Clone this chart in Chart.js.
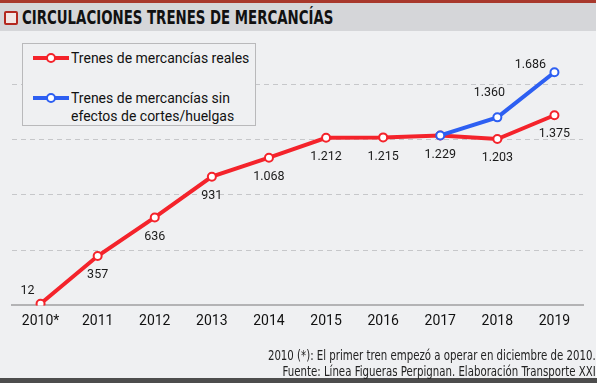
<!DOCTYPE html>
<html>
<head>
<meta charset="utf-8">
<script src="https://cdn.jsdelivr.net/npm/chart.js@4.4.1/dist/chart.umd.min.js"></script>
<style>
  html, body { margin: 0; padding: 0; background: #fff; }
  #wrap { position: relative; width: 600px; height: 383px; overflow: hidden; }
  #topline { position: absolute; left: 0; top: 0; width: 596px; height: 3px; background: #a8382c; }
  #titlebar { position: absolute; left: 0; top: 3px; width: 596px; height: 28px; background: #d5d6d9; }
  #icon { position: absolute; left: 4px; top: 8px; width: 10px; height: 10px; border: 2px solid #b4281f; border-radius: 2px; background: #f3e6e4; }
  #title { position: absolute; left: 22px; top: 3px; font: bold 19px "DejaVu Sans Condensed", sans-serif; color: #111; white-space: nowrap; transform-origin: left center; transform: scaleX(0.78); }
  #panel { position: absolute; left: 0; top: 31px; width: 596px; height: 347px; background: #eff0f2; }
  #bottomline { position: absolute; left: 0; top: 378px; width: 597px; height: 5px; background: #4d4d4d; }
  canvas { position: absolute; left: 0; top: 0; }
  #legend { position: absolute; left: 22px; top: 43px; width: 232px; height: 81px; border: 1px solid #b9b9bb; background: #eff0f2; font: 14px Roboto, sans-serif; color: #111; }
  .item { position: absolute; left: 10px; display: flex; align-items: flex-start; }
  .swatch { position: relative; width: 36px; height: 16px; margin-right: 2px; flex: none; }
  .swatch .ln { position: absolute; left: 0; right: 0; top: 7px; height: 4px; }
  .swatch .pt { position: absolute; left: 13px; top: 4px; width: 6px; height: 6px; border-radius: 50%; border: 2px solid; background: #fff; }
  .item span { line-height: 18px; }
  #footer { position: absolute; right: 4px; top: 347px; text-align: right; font: 14px "DejaVu Sans Condensed", sans-serif; color: #222; line-height: 16px; white-space: nowrap; transform-origin: right center; transform: scaleX(0.81); }
</style>
</head>
<body>
<div id="wrap">
  <div id="topline"></div>
  <div id="titlebar"><div id="icon"></div><div id="title">CIRCULACIONES TRENES DE MERCANCÍAS</div></div>
  <div id="panel"></div>
  <div id="bottomline"></div>
  <canvas id="chart" width="600" height="383"></canvas>
  <div id="legend"></div>
  <div id="footer">2010 (*): El primer tren empezó a operar en diciembre de 2010.<br>Fuente: Línea Figueras Perpignan. Elaboración Transporte XXI</div>
</div>
<script>
// ---- data ----
const years = ["2010*", "2011", "2012", "2013", "2014", "2015", "2016", "2017", "2018", "2019"];
const realTrains = [12, 357, 636, 931, 1068, 1212, 1215, 1229, 1203, 1375];
const noStrikeTrains = [null, null, null, null, null, null, null, 1229, 1360, 1686];
const seriesNames = ["Trenes de mercancías reales", "Trenes de mercancías sin\nefectos de cortes/huelgas"];
const gridValues = [400, 800, 1200, 1600];

const RED = "#f4232b";
const BLUE = "#2d5ff2";

// 1212 -> "1.212"
function fmt(v) {
  return String(v).replace(/\B(?=(\d{3})+(?!\d))/g, ".");
}

// where the value label sits around each point
function labelOffset(dsIndex, i) {
  if (dsIndex === 0) {
    if (i === 0) return [-13, -13];
    return [0, 19];
  }
  if (i === 7) return null; // shared point, label belongs to the red series
  if (i === 9) return [-24, -7];
  return [-8, -24];
}

const valueLabels = {
  id: "valueLabels",
  afterDatasetsDraw(chart) {
    const ctx = chart.ctx;
    ctx.save();
    ctx.font = "12.5px Roboto, sans-serif";
    ctx.fillStyle = "#1a1a1a";
    ctx.textAlign = "center";
    ctx.textBaseline = "middle";
    chart.data.datasets.forEach((ds, di) => {
      chart.getDatasetMeta(di).data.forEach((pt, i) => {
        const v = ds.data[i];
        if (v == null) return;
        const off = labelOffset(di, i);
        if (!off) return;
        ctx.fillText(fmt(v), pt.x + off[0], pt.y + off[1]);
      });
    });
    ctx.restore();
  },
};

const chart = new Chart(document.getElementById("chart"), {
  type: "line",
  data: {
    labels: years,
    datasets: [
      {
        label: seriesNames[0],
        data: realTrains,
        borderColor: RED,
        order: 2,
      },
      {
        label: seriesNames[1],
        data: noStrikeTrains,
        borderColor: BLUE,
        order: 1,
      },
    ],
  },
  options: {
    responsive: false,
    animation: false,
    events: [],
    layout: { padding: { left: 12, right: 17, top: 56.5, bottom: 44.8 } },
    elements: {
      line: { borderWidth: 4, tension: 0 },
      point: { radius: 4, borderWidth: 2, backgroundColor: "#fff" },
    },
    plugins: { legend: { display: false }, tooltip: { enabled: false } },
    scales: {
      x: {
        offset: true,
        grid: { display: false, drawTicks: false },
        border: { display: true, color: "#b3b3b5", width: 2 },
        ticks: { padding: 8, color: "#111", font: { family: "Roboto", size: 14 } },
      },
      y: {
        min: 0,
        max: 1800,
        afterBuildTicks: (axis) => {
          axis.ticks = [0, ...gridValues, 1800].map((v) => ({ value: v }));
        },
        ticks: { display: false },
        grid: {
          drawTicks: false,
          lineWidth: 1,
          borderDash: [5, 4],
          color: (c) => (gridValues.includes(c.tick && c.tick.value) ? "#c6c7ca" : "rgba(0,0,0,0)"),
        },
        border: { display: false, dash: [5, 4] },
      },
    },
  },
  plugins: [valueLabels],
});

// html legend built from the chart's datasets
document.getElementById("legend").innerHTML = chart.data.datasets
  .map(
    (ds, i) => `
    <div class="item" style="top:${i === 0 ? 5 : 45}px">
      <div class="swatch"><div class="ln" style="background:${ds.borderColor}"></div><div class="pt" style="border-color:${ds.borderColor}"></div></div>
      <span>${ds.label.replace("\n", "<br>")}</span>
    </div>`
  )
  .join("");
</script>
</body>
</html>
